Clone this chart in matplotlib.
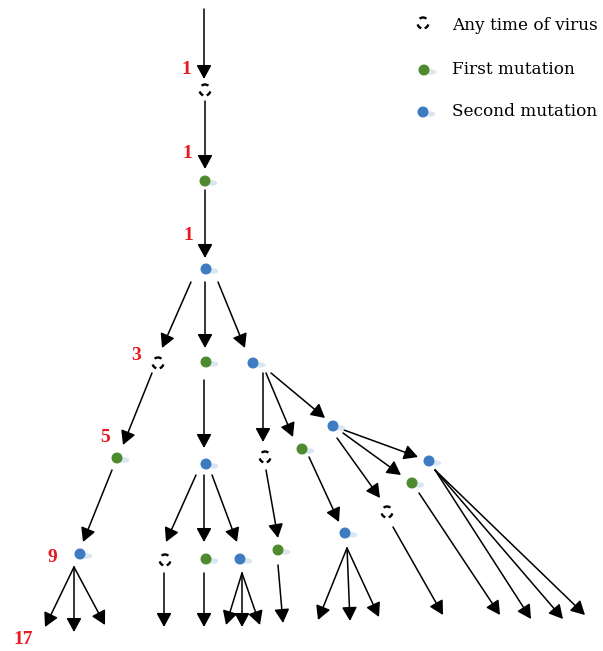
import matplotlib
matplotlib.use("Agg")
import matplotlib.pyplot as plt
from matplotlib.patches import Arc, Circle, Ellipse, FancyArrowPatch

# Node positions (pixel units) and kind
dashed_x = [205, 158, 265, 387, 165]
dashed_y = [90, 363, 457, 512, 560]
green_x = [205, 206, 117, 302, 412, 206, 278]
green_y = [181, 362, 458, 449, 483, 559, 550]
blue_x = [206, 253, 206, 333, 429, 80, 240, 345]
blue_y = [269, 363, 464, 426, 461, 554, 559, 533]

# Arrows: start and tip
arrow_start = [(204, 9), (205, 101), (205, 190),
               (191, 282), (205, 282), (218, 282),
               (152, 373), (204, 380), (263, 373), (266, 373), (271, 373),
               (344, 430), (343, 433), (337, 438),
               (112, 470), (196, 475), (204, 475), (212, 475),
               (266, 470), (309, 457),
               (74, 567), (74, 567), (74, 567),
               (164, 573), (204, 573),
               (242, 573), (242, 573), (242, 573),
               (278, 565),
               (347, 548), (347, 548), (347, 548),
               (393, 527), (419, 493),
               (435, 470), (435, 470), (435, 470)]
arrow_end = [(204, 79), (205, 169), (205, 258),
             (162, 348), (205, 348), (245, 348),
             (123, 445), (204, 448), (263, 442), (293, 437), (325, 418),
             (418, 457), (401, 475), (380, 498),
             (83, 542), (166, 542), (204, 542), (237, 542),
             (278, 538), (339, 522),
             (45, 627), (74, 632), (105, 625),
             (164, 627), (204, 627),
             (226, 625), (242, 627), (260, 625),
             (283, 623),
             (318, 620), (350, 621), (379, 617),
             (443, 615), (500, 615),
             (531, 619), (563, 619), (585, 615)]

# Red counts per level
counts = ["1", "1", "1", "3", "5", "9", "17"]
count_x = [186, 187, 188, 136, 105, 52, 23]
count_y = [69, 154, 236, 356, 438, 558, 640]

legend_labels = ["Any time of virus", "First mutation", "Second mutation"]

GREEN = "#4e8a2e"
BLUE = "#3d7cc0"
RED = "#e8191f"

fig = plt.figure(figsize=(6.03, 6.51), dpi=100)
ax = fig.add_axes([0, 0, 1, 1])
ax.set_xlim(0, 603)
ax.set_ylim(651, 0)
ax.axis("off")


def dot(x, y, color):
    ax.add_patch(Ellipse((x + 7, y + 2), 9, 4, color="#d8e7f1", zorder=2))
    ax.add_patch(Circle((x, y), 4.8, color=color, zorder=3))


def ring(x, y):
    # three dashes: top, lower-left, lower-right (y axis is flipped)
    for t1, t2 in [(232, 308), (108, 165), (15, 72)]:
        ax.add_patch(Arc((x, y), 11, 11, theta1=t1, theta2=t2,
                         lw=1.7, color="black", zorder=3))


for (x0, y0), (x1, y1) in zip(arrow_start, arrow_end):
    ax.add_patch(FancyArrowPatch((x0, y0), (x1, y1),
                                 arrowstyle="-|>,head_length=0.7,head_width=0.38",
                                 mutation_scale=12, lw=1.1, color="black",
                                 shrinkA=0, shrinkB=0, zorder=1))

for x, y in zip(dashed_x, dashed_y):
    ring(x, y)
for x, y in zip(green_x, green_y):
    dot(x, y, GREEN)
for x, y in zip(blue_x, blue_y):
    dot(x, y, BLUE)

for t, x, y in zip(counts, count_x, count_y):
    ax.text(x, y, t, color=RED, fontsize=14, fontweight="bold",
            family="Liberation Serif", ha="center", va="center")

# Legend
ring(423, 23)
dot(424, 70, GREEN)
dot(423, 112, BLUE)
for lab, y in zip(legend_labels, [25, 70, 111]):
    ax.text(452, y, lab, fontsize=12.2, family="DejaVu Serif",
            ha="left", va="center")

fig.savefig("out.png", dpi=100)
